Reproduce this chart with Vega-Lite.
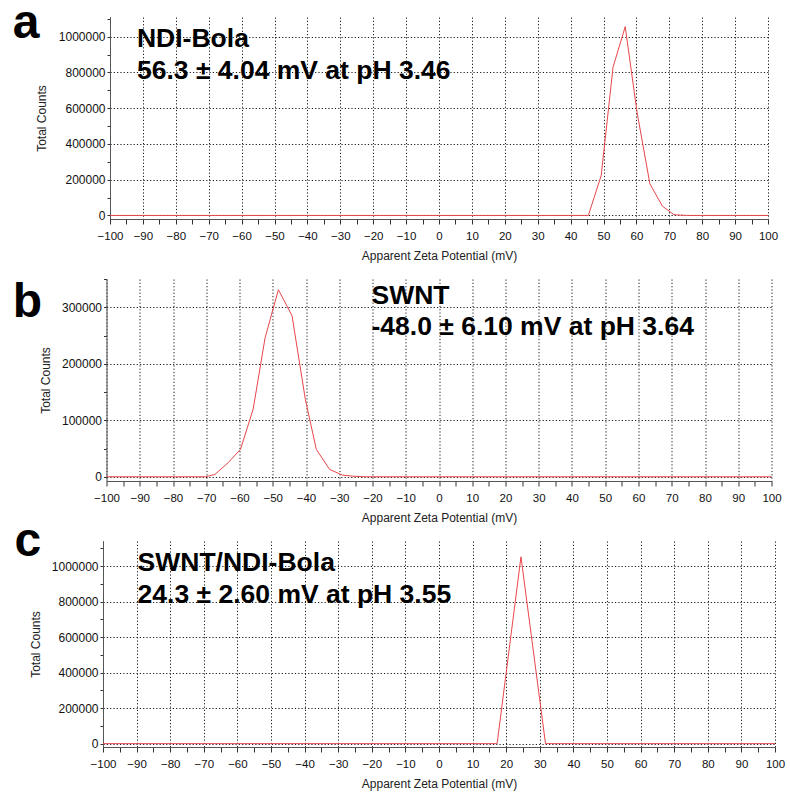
{
  "$schema": "https://vega.github.io/schema/vega-lite/v6.json",
  "background": "white",
  "padding": {"left": 12, "top": 0, "right": 5, "bottom": 5},
  "bounds": "flush",
  "center": true,
  "spacing": 60,
  "config": {
    "font": "Liberation Sans",
    "view": {"stroke": null},
    "axis": {
      "labelFont": "Liberation Sans",
      "titleFont": "Liberation Sans",
      "labelColor": "#111",
      "titleColor": "#222",
      "titleFontWeight": "normal",
      "titleFontSize": 12,
      "domainColor": "#555",
      "domainWidth": 1,
      "tickColor": "#333",
      "gridColor": "#000",
      "gridDash": [1.2, 2.1],
      "gridWidth": 1,
      "labelOverlap": false,
      "labelBound": false,
      "labelFlush": false
    }
  },
  "datasets": {
    "a_line": [
      {"mv": -100, "count": 0}, {"mv": 45.4, "count": 0}, {"mv": 49.3, "count": 223000},
      {"mv": 52.9, "count": 829000}, {"mv": 56.6, "count": 1056000}, {"mv": 60.2, "count": 577000},
      {"mv": 64.1, "count": 177000}, {"mv": 67.9, "count": 52000}, {"mv": 71.4, "count": 4000},
      {"mv": 75.2, "count": 0}, {"mv": 100, "count": 0}
    ],
    "a_note": [
      {"mv": -91.8, "count": 944000, "label": "NDI-Bola"},
      {"mv": -91.8, "count": 764000, "label": "56.3 ± 4.04 mV at pH 3.46"}
    ],
    "a_letter": [{"mv": -125.5, "count": 990000, "label": "a"}],
    "b_line": [
      {"mv": -100, "count": 0}, {"mv": -70.2, "count": 0}, {"mv": -67.4, "count": 4000},
      {"mv": -63.4, "count": 25000}, {"mv": -59.7, "count": 48500}, {"mv": -55.9, "count": 119500},
      {"mv": -52.3, "count": 246000}, {"mv": -48.3, "count": 331000}, {"mv": -44.2, "count": 285000},
      {"mv": -40.2, "count": 137000}, {"mv": -36.9, "count": 48500}, {"mv": -32.9, "count": 13000},
      {"mv": -29.1, "count": 3000}, {"mv": -25.9, "count": 1000}, {"mv": -22, "count": 0},
      {"mv": 100, "count": 0}
    ],
    "b_note": [
      {"mv": -20.3, "count": 306600, "label": "SWNT"},
      {"mv": -20.3, "count": 250800, "label": "-48.0 ± 6.10 mV at pH 3.64"}
    ],
    "b_letter": [{"mv": -123.8, "count": 283500, "label": "b"}],
    "c_line": [
      {"mv": -100, "count": 0}, {"mv": 17.3, "count": 0}, {"mv": 24.4, "count": 1053000},
      {"mv": 31.7, "count": 0}, {"mv": 100, "count": 0}
    ],
    "c_note": [
      {"mv": -89.7, "count": 973500, "label": "SWNT/NDI-Bola"},
      {"mv": -89.7, "count": 793500, "label": "24.3 ± 2.60 mV at pH 3.55"}
    ],
    "c_letter": [{"mv": -122.4, "count": 1058000, "label": "c"}]
  },
  "vconcat": [
    {
      "width": 658,
      "height": 202,
      "encoding": {
        "x": {
          "field": "mv", "type": "quantitative",
          "scale": {"domain": [-100, 100], "nice": false, "zero": false},
          "axis": {
            "title": "Apparent Zeta Potential (mV)",
            "values": [-100,-95,-90,-85,-80,-75,-70,-65,-60,-55,-50,-45,-40,-35,-30,-25,-20,-15,-10,-5,0,5,10,15,20,25,30,35,40,45,50,55,60,65,70,75,80,85,90,95,100],
            "labelExpr": "datum.value % 10 == 0 ? datum.label : ''",
            "gridOpacity": {"condition": {"test": "datum.value % 10 != 0", "value": 0}, "value": 0.9},
            "labelFontSize": 11.5, "labelPadding": 6, "titlePadding": 9, "tickSize": 5
          }
        },
        "y": {
          "field": "count", "type": "quantitative",
          "scale": {"domain": [-20000, 1110000], "nice": false, "zero": false},
          "axis": {
            "title": "Total Counts",
            "values": [0,100000,200000,300000,400000,500000,600000,700000,800000,900000,1000000,1100000],
            "format": "d",
            "labelExpr": "datum.value % 200000 == 0 ? datum.label : ''",
            "gridOpacity": {"condition": {"test": "datum.value % 200000 != 0", "value": 0}, "value": 0.9},
            "labelFontSize": 12, "labelPadding": 2, "tickSize": 3, "titlePadding": 10
          }
        }
      },
      "layer": [
        {"data": {"name": "a_line"}, "mark": {"type": "line", "color": "#e8464a", "strokeWidth": 1}},
        {"data": {"name": "a_note"}, "mark": {"type": "text", "align": "left", "baseline": "alphabetic", "fontSize": 26.5, "fontWeight": "bold", "color": "#000"}, "encoding": {"text": {"field": "label"}}},
        {"data": {"name": "a_letter"}, "mark": {"type": "text", "align": "center", "baseline": "alphabetic", "fontSize": 48, "fontWeight": "bold", "color": "#000"}, "encoding": {"text": {"field": "label"}}}
      ]
    },
    {
      "width": 665,
      "height": 202,
      "encoding": {
        "x": {
          "field": "mv", "type": "quantitative",
          "scale": {"domain": [-100, 100], "nice": false, "zero": false},
          "axis": {
            "title": "Apparent Zeta Potential (mV)",
            "values": [-100,-95,-90,-85,-80,-75,-70,-65,-60,-55,-50,-45,-40,-35,-30,-25,-20,-15,-10,-5,0,5,10,15,20,25,30,35,40,45,50,55,60,65,70,75,80,85,90,95,100],
            "labelExpr": "datum.value % 10 == 0 ? datum.label : ''",
            "gridOpacity": {"condition": {"test": "datum.value % 10 != 0", "value": 0}, "value": 0.9},
            "labelFontSize": 11.5, "labelPadding": 6, "titlePadding": 9, "tickSize": 5
          }
        },
        "y": {
          "field": "count", "type": "quantitative",
          "scale": {"domain": [-7500, 350000], "nice": false, "zero": false},
          "axis": {
            "title": "Total Counts",
            "values": [0,50000,100000,150000,200000,250000,300000,350000],
            "format": "d",
            "labelExpr": "datum.value % 100000 == 0 ? datum.label : ''",
            "gridOpacity": {"condition": {"test": "datum.value % 100000 != 0", "value": 0}, "value": 0.9},
            "labelFontSize": 12, "labelPadding": 2, "tickSize": 3, "titlePadding": 9
          }
        }
      },
      "layer": [
        {"data": {"name": "b_line"}, "mark": {"type": "line", "color": "#e8464a", "strokeWidth": 1}},
        {"data": {"name": "b_note"}, "mark": {"type": "text", "align": "left", "baseline": "alphabetic", "fontSize": 26.5, "fontWeight": "bold", "color": "#000"}, "encoding": {"text": {"field": "label"}}},
        {"data": {"name": "b_letter"}, "mark": {"type": "text", "align": "center", "baseline": "alphabetic", "fontSize": 48, "fontWeight": "bold", "color": "#000"}, "encoding": {"text": {"field": "label"}}}
      ]
    },
    {
      "width": 672,
      "height": 206,
      "encoding": {
        "x": {
          "field": "mv", "type": "quantitative",
          "scale": {"domain": [-100, 100], "nice": false, "zero": false},
          "axis": {
            "title": "Apparent Zeta Potential (mV)",
            "values": [-100,-95,-90,-85,-80,-75,-70,-65,-60,-55,-50,-45,-40,-35,-30,-25,-20,-15,-10,-5,0,5,10,15,20,25,30,35,40,45,50,55,60,65,70,75,80,85,90,95,100],
            "labelExpr": "datum.value % 10 == 0 ? datum.label : ''",
            "gridOpacity": {"condition": {"test": "datum.value % 10 != 0", "value": 0}, "value": 0.9},
            "labelFontSize": 11.5, "labelPadding": 6, "titlePadding": 9, "tickSize": 5
          }
        },
        "y": {
          "field": "count", "type": "quantitative",
          "scale": {"domain": [-19000, 1142000], "nice": false, "zero": false},
          "axis": {
            "title": "Total Counts",
            "values": [0,100000,200000,300000,400000,500000,600000,700000,800000,900000,1000000,1100000],
            "format": "d",
            "labelExpr": "datum.value % 200000 == 0 ? datum.label : ''",
            "gridOpacity": {"condition": {"test": "datum.value % 200000 != 0", "value": 0}, "value": 0.9},
            "labelFontSize": 12, "labelPadding": 2, "tickSize": 3, "titlePadding": 9
          }
        }
      },
      "layer": [
        {"data": {"name": "c_line"}, "mark": {"type": "line", "color": "#e8464a", "strokeWidth": 1}},
        {"data": {"name": "c_note"}, "mark": {"type": "text", "align": "left", "baseline": "alphabetic", "fontSize": 26.5, "fontWeight": "bold", "color": "#000"}, "encoding": {"text": {"field": "label"}}},
        {"data": {"name": "c_letter"}, "mark": {"type": "text", "align": "center", "baseline": "alphabetic", "fontSize": 48, "fontWeight": "bold", "color": "#000"}, "encoding": {"text": {"field": "label"}}}
      ]
    }
  ]
}
